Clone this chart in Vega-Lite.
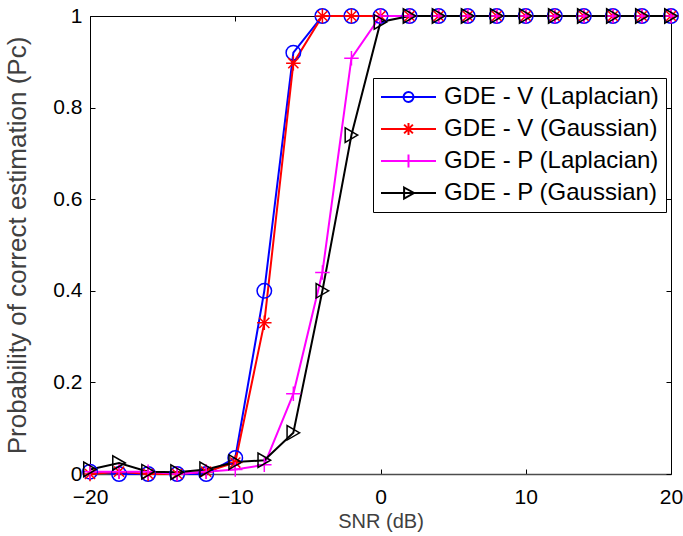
{
  "$schema": "https://vega.github.io/schema/vega-lite/v6.json",
  "width": 581,
  "height": 458,
  "autosize": "none",
  "padding": {"left": 90, "top": 16, "right": 12, "bottom": 62},
  "background": "white",
  "config": {"view": {"stroke": null}, "font": "Liberation Sans", "axis": {"grid": false}},
  "data": {"values": [
    {"x": -20, "y": 0.005, "series": "GDE - V (Laplacian)"},
    {"x": -18, "y": 0, "series": "GDE - V (Laplacian)"},
    {"x": -16, "y": 0, "series": "GDE - V (Laplacian)"},
    {"x": -14, "y": 0, "series": "GDE - V (Laplacian)"},
    {"x": -12, "y": 0, "series": "GDE - V (Laplacian)"},
    {"x": -10, "y": 0.035, "series": "GDE - V (Laplacian)"},
    {"x": -8, "y": 0.40, "series": "GDE - V (Laplacian)"},
    {"x": -6, "y": 0.92, "series": "GDE - V (Laplacian)"},
    {"x": -4, "y": 1, "series": "GDE - V (Laplacian)"},
    {"x": -2, "y": 1, "series": "GDE - V (Laplacian)"},
    {"x": 0, "y": 1, "series": "GDE - V (Laplacian)"},
    {"x": 2, "y": 1, "series": "GDE - V (Laplacian)"},
    {"x": 4, "y": 1, "series": "GDE - V (Laplacian)"},
    {"x": 6, "y": 1, "series": "GDE - V (Laplacian)"},
    {"x": 8, "y": 1, "series": "GDE - V (Laplacian)"},
    {"x": 10, "y": 1, "series": "GDE - V (Laplacian)"},
    {"x": 12, "y": 1, "series": "GDE - V (Laplacian)"},
    {"x": 14, "y": 1, "series": "GDE - V (Laplacian)"},
    {"x": 16, "y": 1, "series": "GDE - V (Laplacian)"},
    {"x": 18, "y": 1, "series": "GDE - V (Laplacian)"},
    {"x": 20, "y": 1, "series": "GDE - V (Laplacian)"},
    {"x": -20, "y": 0, "series": "GDE - V (Gaussian)"},
    {"x": -18, "y": 0.005, "series": "GDE - V (Gaussian)"},
    {"x": -16, "y": 0, "series": "GDE - V (Gaussian)"},
    {"x": -14, "y": 0, "series": "GDE - V (Gaussian)"},
    {"x": -12, "y": 0.005, "series": "GDE - V (Gaussian)"},
    {"x": -10, "y": 0.025, "series": "GDE - V (Gaussian)"},
    {"x": -8, "y": 0.33, "series": "GDE - V (Gaussian)"},
    {"x": -6, "y": 0.897, "series": "GDE - V (Gaussian)"},
    {"x": -4, "y": 1, "series": "GDE - V (Gaussian)"},
    {"x": -2, "y": 1, "series": "GDE - V (Gaussian)"},
    {"x": 0, "y": 1, "series": "GDE - V (Gaussian)"},
    {"x": 2, "y": 1, "series": "GDE - V (Gaussian)"},
    {"x": 4, "y": 1, "series": "GDE - V (Gaussian)"},
    {"x": 6, "y": 1, "series": "GDE - V (Gaussian)"},
    {"x": 8, "y": 1, "series": "GDE - V (Gaussian)"},
    {"x": 10, "y": 1, "series": "GDE - V (Gaussian)"},
    {"x": 12, "y": 1, "series": "GDE - V (Gaussian)"},
    {"x": 14, "y": 1, "series": "GDE - V (Gaussian)"},
    {"x": 16, "y": 1, "series": "GDE - V (Gaussian)"},
    {"x": 18, "y": 1, "series": "GDE - V (Gaussian)"},
    {"x": 20, "y": 1, "series": "GDE - V (Gaussian)"},
    {"x": -20, "y": 0.005, "series": "GDE - P (Laplacian)"},
    {"x": -18, "y": 0.005, "series": "GDE - P (Laplacian)"},
    {"x": -16, "y": 0.005, "series": "GDE - P (Laplacian)"},
    {"x": -14, "y": 0, "series": "GDE - P (Laplacian)"},
    {"x": -12, "y": 0.005, "series": "GDE - P (Laplacian)"},
    {"x": -10, "y": 0.01, "series": "GDE - P (Laplacian)"},
    {"x": -8, "y": 0.02, "series": "GDE - P (Laplacian)"},
    {"x": -6, "y": 0.175, "series": "GDE - P (Laplacian)"},
    {"x": -4, "y": 0.44, "series": "GDE - P (Laplacian)"},
    {"x": -2, "y": 0.908, "series": "GDE - P (Laplacian)"},
    {"x": 0, "y": 1, "series": "GDE - P (Laplacian)"},
    {"x": 2, "y": 1, "series": "GDE - P (Laplacian)"},
    {"x": 4, "y": 1, "series": "GDE - P (Laplacian)"},
    {"x": 6, "y": 1, "series": "GDE - P (Laplacian)"},
    {"x": 8, "y": 1, "series": "GDE - P (Laplacian)"},
    {"x": 10, "y": 1, "series": "GDE - P (Laplacian)"},
    {"x": 12, "y": 1, "series": "GDE - P (Laplacian)"},
    {"x": 14, "y": 1, "series": "GDE - P (Laplacian)"},
    {"x": 16, "y": 1, "series": "GDE - P (Laplacian)"},
    {"x": 18, "y": 1, "series": "GDE - P (Laplacian)"},
    {"x": 20, "y": 1, "series": "GDE - P (Laplacian)"},
    {"x": -20, "y": 0.01, "series": "GDE - P (Gaussian)"},
    {"x": -18, "y": 0.024, "series": "GDE - P (Gaussian)"},
    {"x": -16, "y": 0.005, "series": "GDE - P (Gaussian)"},
    {"x": -14, "y": 0.004, "series": "GDE - P (Gaussian)"},
    {"x": -12, "y": 0.01, "series": "GDE - P (Gaussian)"},
    {"x": -10, "y": 0.026, "series": "GDE - P (Gaussian)"},
    {"x": -8, "y": 0.03, "series": "GDE - P (Gaussian)"},
    {"x": -6, "y": 0.09, "series": "GDE - P (Gaussian)"},
    {"x": -4, "y": 0.40, "series": "GDE - P (Gaussian)"},
    {"x": -2, "y": 0.74, "series": "GDE - P (Gaussian)"},
    {"x": 0, "y": 0.987, "series": "GDE - P (Gaussian)"},
    {"x": 2, "y": 1, "series": "GDE - P (Gaussian)"},
    {"x": 4, "y": 1, "series": "GDE - P (Gaussian)"},
    {"x": 6, "y": 1, "series": "GDE - P (Gaussian)"},
    {"x": 8, "y": 1, "series": "GDE - P (Gaussian)"},
    {"x": 10, "y": 1, "series": "GDE - P (Gaussian)"},
    {"x": 12, "y": 1, "series": "GDE - P (Gaussian)"},
    {"x": 14, "y": 1, "series": "GDE - P (Gaussian)"},
    {"x": 16, "y": 1, "series": "GDE - P (Gaussian)"},
    {"x": 18, "y": 1, "series": "GDE - P (Gaussian)"},
    {"x": 20, "y": 1, "series": "GDE - P (Gaussian)"}
  ]},
  "layer": [
    {
      "mark": {"type": "line", "strokeWidth": 2, "clip": false},
      "encoding": {
        "x": {"field": "x", "type": "quantitative", "scale": {"domain": [-20, 20], "nice": false},
          "axis": {"orient": "bottom", "values": [-20, -10, 0, 10, 20], "title": "SNR (dB)", "titleFontSize": 20, "titleFontWeight": "normal", "titleColor": "#404040", "titleBaseline": "alphabetic", "titleX": 290.5, "titleY": 53, "labelFontSize": 21, "labelColor": "black", "labelPadding": 17, "tickSize": -5, "tickColor": "black", "domainColor": "#4d4d4d", "domainWidth": 1.5, "labelFlush": false, "labelOverlap": false}},
        "y": {"field": "y", "type": "quantitative", "scale": {"domain": [0, 1], "nice": false},
          "axis": {"orient": "left", "values": [0, 0.2, 0.4, 0.6, 0.8, 1], "format": "~g", "title": "Probability of correct estimation (Pc)", "titleFontSize": 26, "titleFontWeight": "normal", "titleColor": "#404040", "titleAngle": -90, "titleBaseline": "alphabetic", "titleX": -65, "titleY": 229, "labelFontSize": 21, "labelColor": "black", "labelPadding": 13, "tickSize": -5, "tickColor": "black", "domainColor": "black", "labelFlush": false, "labelOverlap": false}},
        "color": {"field": "series", "type": "nominal",
          "scale": {"domain": ["GDE - V (Laplacian)", "GDE - V (Gaussian)", "GDE - P (Laplacian)", "GDE - P (Gaussian)"], "range": ["#0000ff", "#ff0000", "#ff00ff", "#000000"]},
          "legend": null}
      }
    },
    {
      "mark": {"type": "point", "filled": false, "strokeWidth": 1.5, "size": 210, "opacity": 1, "clip": false},
      "encoding": {
        "x": {"field": "x", "type": "quantitative", "scale": {"domain": [-20, 20], "nice": false},
          "axis": {"orient": "top", "values": [-20, -10, 0, 10, 20], "labels": false, "title": null, "tickSize": -5, "tickColor": "black", "domainColor": "black"}},
        "y": {"field": "y", "type": "quantitative", "scale": {"domain": [0, 1], "nice": false},
          "axis": {"orient": "right", "values": [0, 0.2, 0.4, 0.6, 0.8, 1], "labels": false, "title": null, "tickSize": -5, "tickColor": "black", "domainColor": "black"}},
        "color": {"field": "series", "type": "nominal",
          "scale": {"domain": ["GDE - V (Laplacian)", "GDE - V (Gaussian)", "GDE - P (Laplacian)", "GDE - P (Gaussian)"], "range": ["#0000ff", "#ff0000", "#ff00ff", "#000000"]},
          "legend": null},
        "shape": {"field": "series", "type": "nominal",
          "scale": {"domain": ["GDE - V (Laplacian)", "GDE - V (Gaussian)", "GDE - P (Laplacian)", "GDE - P (Gaussian)"], "range": ["circle", "M-1,0L1,0M0,-1L0,1M-0.7,-0.7L0.7,0.7M-0.7,0.7L0.7,-0.7", "M-1,0L1,0M0,-1L0,1", "triangle-right"]},
          "legend": null}
      }
    },
    {
      "transform": [{"filter": "datum.y > 5"}],
      "mark": {"type": "point", "filled": false, "strokeWidth": 2, "size": 484, "opacity": 1},
      "encoding": {
        "x": {"field": "x", "type": "quantitative", "scale": {"domain": [-20, 20], "nice": false}, "axis": null},
        "y": {"field": "y", "type": "quantitative", "scale": {"domain": [0, 1], "nice": false}, "axis": null},
        "color": {"field": "series", "type": "nominal",
          "scale": {"domain": ["GDE - V (Laplacian)", "GDE - V (Gaussian)", "GDE - P (Laplacian)", "GDE - P (Gaussian)"], "range": ["#0000ff", "#ff0000", "#ff00ff", "#000000"]},
          "legend": {"orient": "none", "legendX": 283, "legendY": 62, "title": null, "labelFontSize": 24, "labelColor": "black", "labelLimit": 400, "labelOffset": 40, "symbolSize": 484, "symbolStrokeWidth": 2, "rowPadding": 8, "padding": 7, "strokeColor": "black", "fillColor": "white"}},
        "shape": {"field": "series", "type": "nominal",
          "scale": {"domain": ["GDE - V (Laplacian)", "GDE - V (Gaussian)", "GDE - P (Laplacian)", "GDE - P (Gaussian)"], "range": ["M-1,0L4,0M1.95,0A0.45,0.45 0 1,1 1.05,0A0.45,0.45 0 1,1 1.95,0", "M-1,0L4,0M1.5,-0.55L1.5,0.55M1.1,-0.4L1.9,0.4M1.1,0.4L1.9,-0.4", "M-1,0L4,0M1.5,-0.6L1.5,0.6", "M-1,0L4,0M1.1,-0.5L2,0L1.1,0.5Z"]},
          "legend": {"orient": "none", "legendX": 283, "legendY": 62, "title": null, "labelFontSize": 24, "labelColor": "black", "labelLimit": 400, "labelOffset": 40, "symbolSize": 484, "symbolStrokeWidth": 2, "rowPadding": 8, "padding": 7, "strokeColor": "black", "fillColor": "white"}}
      }
    }
  ],
  "resolve": {"scale": {"color": "independent", "shape": "independent"}, "axis": {"x": "independent", "y": "independent"}}
}
